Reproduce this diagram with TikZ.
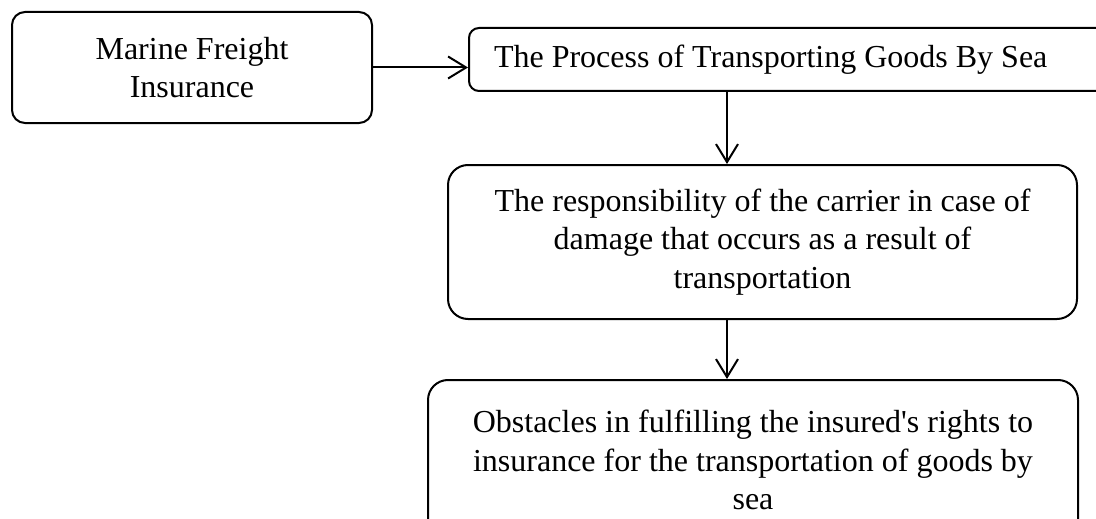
\documentclass[tikz,border=0pt]{standalone}
\usepackage{fontspec}
\setmainfont{Liberation Serif}
\usetikzlibrary{arrows.meta,positioning,calc}

\begin{document}
\begin{tikzpicture}[x=1pt, y=-1pt,
  box/.style={draw, line width=2pt, align=center, inner sep=0pt, font=\fontsize{32}{38.5}\selectfont},
  link/.style={line width=2pt, -{Straight Barb[length=18pt,width=22pt,line width=2pt]}}]
  \useasboundingbox (0,0) rectangle (1096,519);
  % Boxes
  \node[box, rounded corners=13pt, minimum width=360pt, minimum height=111pt] (insurance) at (192,67.5) {Marine Freight\\Insurance};
  \node[box, rounded corners=10pt, minimum width=641pt, minimum height=63pt, text width=591pt, align=flush left] (process) at (789.5,59.5) {The Process of Transporting Goods By Sea};
  \node[box, rounded corners=20pt, minimum width=629pt, minimum height=154pt] (carrier) at (762.5,242) {The responsibility of the carrier in case of\\damage that occurs as a result of\\transportation};
  \node[box, rounded corners=20pt, minimum width=650pt, minimum height=160pt] (obstacles) at (753,460) {Obstacles in fulfilling the insured\textquotesingle s rights to\\insurance for the transportation of goods by\\sea};
  % Arrows
  \coordinate (spine) at (727,0);
  \draw[link] (insurance.east) -- (insurance.east -| process.west);
  \draw[link] (process.south -| spine) -- (carrier.north -| spine);
  \draw[link] (carrier.south -| spine) -- (obstacles.north -| spine);
\end{tikzpicture}
\end{document}
